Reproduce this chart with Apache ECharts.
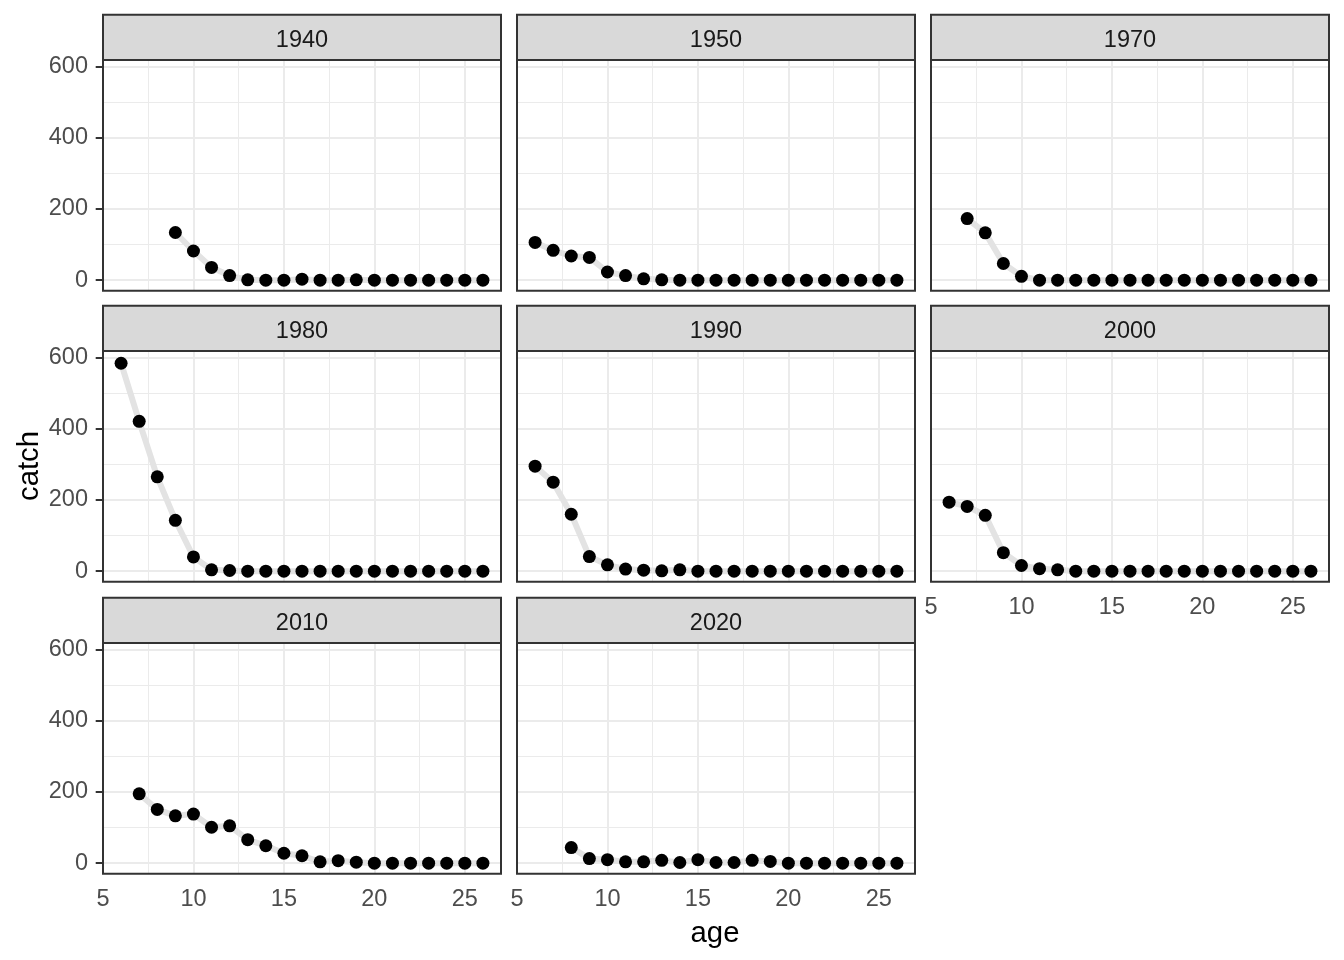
<!DOCTYPE html>
<html>
<head>
<meta charset="utf-8">
<script src="https://cdn.jsdelivr.net/npm/echarts@6/dist/echarts.min.js"></script>
<style>
html,body{margin:0;padding:0;background:#fff;}
#chart{width:1344px;height:960px;}
</style>
</head>
<body>
<div id="chart"></div>
<script>
// ---- data ----
const years = ['1940', '1950', '1970', '1980', '1990', '2000', '2010', '2020'];
const startAges = [9, 6, 7, 6, 6, 6, 7, 8];
const catch1940 = [134, 82, 36, 13, 1, 0, 0, 3, 0, 0, 1, 0, 0, 0, 0, 0, 0, 0];
const catch1950 = [106, 84, 68, 64, 23, 13, 4, 1, 0, 0, 0, 0, 0, 0, 0, 0, 0, 0, 0, 0, 0];
const catch1970 = [173, 133, 47, 11, 0, 0, 0, 0, 0, 0, 0, 0, 0, 0, 0, 0, 0, 0, 0, 0];
const catch1980 = [584, 421, 265, 143, 40, 4, 2, 0, 0, 0, 0, 0, 0, 0, 0, 0, 0, 0, 0, 0, 0];
const catch1990 = [295, 250, 160, 41, 18, 6, 3, 1, 4, 0, 0, 0, 0, 0, 0, 0, 0, 0, 0, 0, 0];
const catch2000 = [194, 182, 157, 52, 16, 7, 4, 0, 0, 0, 0, 0, 0, 0, 0, 0, 0, 0, 0, 0, 0];
const catch2010 = [195, 151, 133, 138, 101, 105, 66, 49, 28, 21, 4, 7, 3, 0, 0, 0, 0, 0, 0, 0];
const catch2020 = [44, 13, 10, 4, 4, 8, 2, 10, 2, 2, 8, 5, 0, 0, 0, 0, 0, 0, 0];
const catchSeries = [catch1940, catch1950, catch1970, catch1980, catch1990, catch2000, catch2010, catch2020];

const yTicks = [0, 200, 400, 600];
const yMinor = [100, 300, 500];
const xTicks = [5, 10, 15, 20, 25];
const xGridMajor = [10, 15, 20, 25];
const xMinor = [7.5, 12.5, 17.5, 22.5];
const xTitle = 'age';
const yTitle = 'catch';

// ---- layout ----
const colLeft = [103, 517, 931];
const stripTop = [14.7, 305.7, 597.7];
const PW = 398, SH = 45.3, PH = 230.7;
const FONT = 'Liberation Sans, Arial, sans-serif';
const TICK_FS = 23.5;

const grids = [], xAxes = [], yAxes = [], series = [], graphics = [];

years.forEach((yr, i) => {
  const row = Math.floor(i / 3), col = i % 3;
  const left = colLeft[col];
  const sTop = stripTop[row];
  const pTop = sTop + SH;
  const showY = col === 0;
  const showX = i >= 5;
  grids.push({ left: left, top: pTop, width: PW, height: PH, show: false, containLabel: false });
  xAxes.push({
    type: 'value', gridIndex: i, min: 5, max: 27,
    axisLine: { show: false },
    axisTick: { show: showX, customValues: xTicks, length: 7.3, lineStyle: { color: '#333333', width: 2 } },
    axisLabel: { show: showX, customValues: xTicks, fontSize: TICK_FS, color: '#4D4D4D', fontFamily: FONT, margin: 14 },
    splitLine: { show: false }, minorSplitLine: { show: false }
  });
  yAxes.push({
    type: 'value', gridIndex: i, min: -29.45, max: 618.45,
    axisLine: { show: false },
    axisTick: { show: showY, customValues: yTicks, length: 7.3, lineStyle: { color: '#333333', width: 2 } },
    axisLabel: { show: showY, customValues: yTicks, fontSize: TICK_FS, color: '#4D4D4D', fontFamily: FONT, margin: 15,
      padding: [4, 0, 0, 0] },
    splitLine: { show: false }, minorSplitLine: { show: false }
  });
  const vals = catchSeries[i];
  const data = vals.map((v, k) => [startAges[i] + k, v]);
  const gl = [];
  yMinor.forEach(v => gl.push({ yAxis: v, lineStyle: { color: '#EBEBEB', width: 1, type: 'solid' } }));
  xMinor.forEach(v => gl.push({ xAxis: v, lineStyle: { color: '#EBEBEB', width: 1, type: 'solid' } }));
  yTicks.forEach(v => gl.push({ yAxis: v, lineStyle: { color: '#EBEBEB', width: 2, type: 'solid' } }));
  xGridMajor.forEach(v => gl.push({ xAxis: v, lineStyle: { color: '#EBEBEB', width: 2, type: 'solid' } }));
  series.push({
    type: 'line', xAxisIndex: i, yAxisIndex: i, data: data, z: 3,
    symbol: 'circle', symbolSize: 13, showSymbol: true,
    itemStyle: { color: '#000000' },
    lineStyle: { color: '#E3E3E3', width: 6 },
    emphasis: { disabled: true }, silent: true, animation: false,
    markLine: { silent: true, z: 1, symbol: ['none', 'none'], animation: false, label: { show: false },
      emphasis: { disabled: true }, data: gl }
  });
  // strip
  graphics.push({ type: 'rect', z: 50, shape: { x: left, y: sTop, width: PW, height: SH },
    style: { fill: '#D9D9D9', stroke: '#333333', lineWidth: 2 }, silent: true });
  graphics.push({ type: 'text', z: 51, x: left + PW / 2, y: sTop + SH / 2 + 3.5,
    style: { text: yr, fontSize: TICK_FS, fontFamily: FONT, fill: '#1A1A1A', align: 'center', verticalAlign: 'middle' }, silent: true });
  // panel border
  graphics.push({ type: 'rect', z: 50, shape: { x: left, y: pTop, width: PW, height: PH },
    style: { fill: 'none', stroke: '#333333', lineWidth: 2 }, silent: true });
});

graphics.push({ type: 'text', z: 51, x: 29.5, y: 466, rotation: Math.PI / 2,
  style: { text: yTitle, fontSize: 29.3, fontFamily: FONT, fill: '#000000', align: 'center', verticalAlign: 'middle' }, silent: true });
graphics.push({ type: 'text', z: 51, x: 715, y: 934,
  style: { text: xTitle, fontSize: 29.3, fontFamily: FONT, fill: '#000000', align: 'center', verticalAlign: 'middle' }, silent: true });

const chart = echarts.init(document.getElementById('chart'), null, { renderer: 'canvas' });
chart.setOption({
  backgroundColor: '#FFFFFF',
  animation: false,
  grid: grids, xAxis: xAxes, yAxis: yAxes, series: series,
  graphic: { elements: graphics }
});
</script>
</body>
</html>
